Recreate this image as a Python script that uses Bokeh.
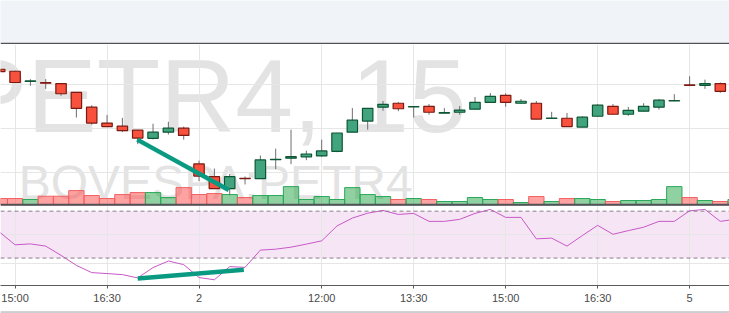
from bokeh.plotting import figure
from bokeh.layouts import column
from bokeh.models import (Range1d, FixedTicker, Span, BoxAnnotation, Label,
                          ColumnDataSource, Grid)
from bokeh.embed import file_html
from bokeh.resources import INLINE
from bokeh.core.validation import silence
from bokeh.core.validation.warnings import MISSING_RENDERERS

silence(MISSING_RENDERERS, True)

# ---------------- data (15-minute bars, index -1 .. 47) ----------------
bar_index = list(range(-1, 48))

open_ = [20.469, 20.460, 20.414, 20.408, 20.404, 20.364, 20.297, 20.225, 20.211, 20.193,
         20.156, 20.184, 20.202, 20.040, 19.982, 19.928, 19.975, 19.973, 20.059, 20.066,
         20.072, 20.076, 20.097, 20.184, 20.234, 20.297, 20.315, 20.298, 20.301, 20.270,
         20.274, 20.288, 20.319, 20.351, 20.315, 20.315, 20.246, 20.247, 20.207, 20.256,
         20.301, 20.265, 20.279, 20.297, 20.325, 20.398, 20.396, 20.404, 20.369]
high = [20.472, 20.462, 20.424, 20.424, 20.405, 20.365, 20.306, 20.262, 20.249, 20.194,
        20.222, 20.231, 20.209, 20.055, 20.019, 19.994, 19.983, 20.078, 20.109, 20.195,
        20.100, 20.150, 20.181, 20.293, 20.293, 20.325, 20.320, 20.302, 20.311, 20.293,
        20.302, 20.343, 20.361, 20.360, 20.334, 20.325, 20.276, 20.271, 20.256, 20.311,
        20.311, 20.298, 20.315, 20.334, 20.356, 20.437, 20.422, 20.409, 20.380]
low = [20.455, 20.406, 20.394, 20.380, 20.349, 20.250, 20.218, 20.208, 20.184, 20.130,
       20.151, 20.173, 20.150, 19.962, 19.926, 19.898, 19.947, 19.972, 20.016, 20.039,
       20.057, 20.072, 20.093, 20.183, 20.195, 20.281, 20.279, 20.250, 20.263, 20.269,
       20.263, 20.287, 20.318, 20.299, 20.314, 20.242, 20.245, 20.208, 20.206, 20.255,
       20.264, 20.258, 20.278, 20.286, 20.324, 20.395, 20.380, 20.362, 20.360]
close = [20.458, 20.409, 20.416, 20.406, 20.358, 20.292, 20.225, 20.209, 20.191, 20.157,
         20.184, 20.202, 20.169, 19.985, 19.928, 19.982, 19.973, 20.058, 20.061, 20.073,
         20.085, 20.099, 20.180, 20.238, 20.292, 20.310, 20.290, 20.300, 20.274, 20.272,
         20.284, 20.319, 20.346, 20.319, 20.324, 20.243, 20.248, 20.209, 20.252, 20.306,
         20.265, 20.283, 20.301, 20.329, 20.327, 20.396, 20.404, 20.369, 20.372]
volume_m = [1.28, 1.28, 1.08, 1.74, 1.74, 2.88, 1.88, 1.28, 2.08, 2.48,
            2.48, 1.48, 3.48, 2.08, 2.28, 2.08, 1.48, 1.88, 1.88, 3.68,
            1.08, 1.68, 1.08, 3.48, 2.08, 1.68, 1.08, 1.28, 1.08, 0.68,
            0.68, 1.48, 1.08, 1.08, 0.48, 1.68, 0.68, 1.28, 1.28, 1.08,
            0.68, 0.88, 0.88, 1.08, 3.68, 1.48, 0.88, 0.68, 1.08]
rsi = [52.0, 41.3, 42.1, 40.2, 32.3, 23.8, 17.6, 16.8, 15.9, 13.1,
       21.9, 27.5, 24.4, 13.4, 11.5, 22.7, 22.1, 36.8, 37.6, 39.3,
       41.9, 44.7, 57.4, 64.1, 68.3, 70.6, 67.2, 68.1, 61.3, 61.3,
       63.0, 68.1, 71.5, 64.7, 64.7, 46.4, 47.0, 40.2, 49.2, 57.9,
       50.3, 53.4, 56.3, 61.3, 61.3, 70.3, 71.5, 61.3, 63.1]

tick_index = [0, 6, 12, 20, 26, 32, 38, 44]
tick_labels = ["15:00", "16:30", "2", "12:00", "13:30", "15:00", "16:30", "5"]
price_grid = [20.0, 20.2, 20.4]
rsi_grid = [25, 50]
rsi_bands = [30, 70]

div_price_x = [7.97, 13.94]
div_price_y = [20.150, 19.922]
div_rsi_x = [8.0, 14.92]
div_rsi_y = [12.5, 20.1]

# ---------------- layout geometry ----------------
W = 729
TOP_H = 44
BOT_H = 7
MAIN_H = 313 - TOP_H - BOT_H
AXIS_EXT = 19
FRAME_BOT = MAIN_H - AXIS_EXT          # frame height in px
Y0 = TOP_H                              # canvas offset of frame top

# price scale calibration: 20.0 at y=173.3, 0.2 per 44.5 px
px_per_price = 44.5 / 0.2
price_top = 20.0 + (173.3 - Y0) / px_per_price
price_bot = 20.0 + (173.3 - (Y0 + FRAME_BOT)) / px_per_price
# volume: baseline at y=205.7, 0.2M per px
vol_top = (205.7 - Y0) * 0.2
vol_bot = (205.7 - (Y0 + FRAME_BOT)) * 0.2
# rsi: 50 at y=235.7, 1.1825 px per unit
rsi_top = 50 + (235.7 - Y0) / 1.1825
rsi_bot = 50 - ((Y0 + FRAME_BOT) - 235.7) / 1.1825

UP_FILL, UP_EDGE = "#42a47e", "#0d5634"
DN_FILL, DN_EDGE = "#f8513d", "#7a1a10"
GRID = "#e6e6e6"
BAND_BG = "#f0f3f8"
DARK = "#505257"

up = [c >= o for o, c in zip(open_, close)]
src = ColumnDataSource(dict(
    x=bar_index, open=open_, high=high, low=low, close=close,
    body_top=[max(o, c) for o, c in zip(open_, close)],
    body_bot=[min(o, c) for o, c in zip(open_, close)],
    fill=[UP_FILL if u else DN_FILL for u in up],
    edge=[UP_EDGE if u else DN_EDGE for u in up],
    vol=volume_m,
    vfill=["#22a444" if u else "#ff4646" for u in up],
    vline=["#2aa95a" if u else "#f26262" for u in up],
    rsi=rsi,
))

# ---------------- top band ----------------
top = figure(width=W, height=TOP_H, toolbar_location=None, output_backend="svg",
             x_axis_location=None, y_axis_location=None, min_border=0,
             min_border_bottom=2, background_fill_color=BAND_BG,
             border_fill_color=DARK, outline_line_color=None)
top.grid.visible = False

# ---------------- main chart (price + volume + RSI) ----------------
p = figure(width=W, height=MAIN_H, toolbar_location=None, output_backend="svg",
           x_range=Range1d(-0.95, 46.6), y_range=Range1d(price_bot, price_top),
           x_axis_location="below", y_axis_location=None, min_border=0,
           outline_line_color=None, background_fill_color="white",
           border_fill_color="white")
p.extra_y_ranges = {"vol": Range1d(vol_bot, vol_top), "rsi": Range1d(rsi_bot, rsi_top)}

p.xgrid.ticker = FixedTicker(ticks=tick_index)
p.xgrid.grid_line_color = GRID
p.ygrid.ticker = FixedTicker(ticks=price_grid)
p.ygrid.grid_line_color = GRID
p.add_layout(Grid(dimension=1, ticker=FixedTicker(ticks=rsi_grid), y_range_name="rsi",
                  grid_line_color=GRID))

ax = p.xaxis[0]
ax.ticker = FixedTicker(ticks=tick_index)
ax.major_label_overrides = {t: s for t, s in zip(tick_index, tick_labels)}
ax.major_label_text_font = "Liberation Sans"
ax.major_label_text_font_size = "11px"
ax.major_label_text_color = "#4a4a4a"
ax.major_label_standoff = 3
ax.major_tick_out = 3
ax.major_tick_in = 0
ax.minor_tick_out = 0
ax.minor_tick_in = 0
ax.axis_line_color = "#5a5a5a"
ax.major_tick_line_color = "#5a5a5a"

# watermark (vertically centred labels)
p.add_layout(Label(x=29.45, y=20.3465, text="PETR4, 15", text_align="right",
                   text_baseline="middle", text_font="Liberation Sans",
                   text_font_size="104px", text_color="#e3e3e3", level="image"))
p.add_layout(Label(x=0.24, y=19.955, text="BOVESPA:PETR4", text_align="left",
                   text_baseline="middle", text_font="Liberation Sans",
                   text_font_size="48px", text_color="#e3e3e3", level="image"))

# RSI band
p.add_layout(BoxAnnotation(bottom=rsi_bands[0], top=rsi_bands[1], y_range_name="rsi",
                           fill_color="#f6e6f5", fill_alpha=1.0, line_color=None,
                           level="image"))

# volume
p.vbar(x="x", width=1.0, top="vol", bottom=0, y_range_name="vol", source=src,
       fill_color="vfill", fill_alpha=0.5, line_color="vline", line_width=1)

# candles
p.segment(x0="x", y0="low", x1="x", y1="high", source=src, line_color="#6e6e6e",
          line_width=1)
p.vbar(x="x", width=0.68, top="body_top", bottom="body_bot", source=src,
       fill_color="fill", line_color="edge", line_width=1.2)

# RSI line
p.line(x="x", y="rsi", source=src, y_range_name="rsi", line_color="#c858c8",
       line_width=1)

for v in rsi_bands:
    p.add_layout(Span(location=v, dimension="width", y_range_name="rsi",
                      line_color="#8a7c8a", line_dash="4 3", line_width=1))

# pane separator
p.add_layout(Span(location=0, dimension="width", y_range_name="vol",
                  line_color=DARK, line_width=2))

# divergence lines
p.line(div_price_x, div_price_y, line_color="#0a9a82", line_width=4.5)
p.line(div_rsi_x, div_rsi_y, y_range_name="rsi", line_color="#0a9a82", line_width=4.5)

# ---------------- bottom band ----------------
bot = figure(width=W, height=BOT_H, toolbar_location=None, output_backend="svg",
             x_axis_location=None, y_axis_location=None, min_border=0,
             min_border_top=1, background_fill_color=BAND_BG,
             border_fill_color=DARK, outline_line_color=None)
bot.grid.visible = False

layout = column(top, p, bot, spacing=0)
open("out.html", "w").write(file_html(layout, INLINE))
